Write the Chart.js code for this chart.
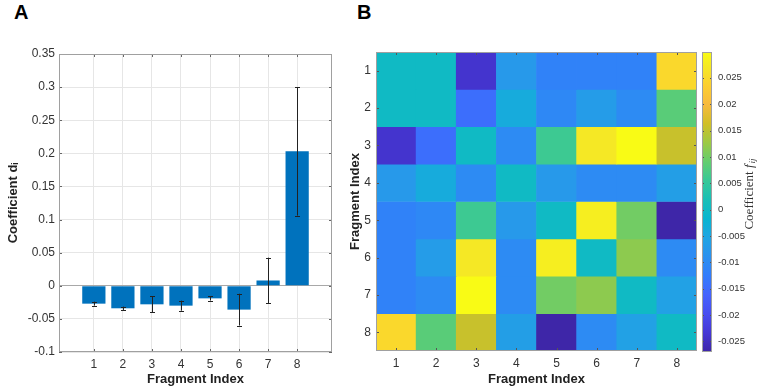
<!DOCTYPE html>
<html><head><meta charset="utf-8">
<script src="https://cdn.jsdelivr.net/npm/chart.js@4"></script>
<style>
body{margin:0;background:#fff;}
#wrap{position:relative;width:767px;height:390px;overflow:hidden;background:#fff;}
canvas{position:absolute;}
.lbl{position:absolute;font:bold 20px 'Liberation Sans',Arial,sans-serif;color:#000;line-height:23px;}
</style></head><body>
<div id="wrap">
<div class="lbl" style="left:14px;top:1px">A</div>
<div class="lbl" style="left:357px;top:1px">B</div>
<canvas id="cA" width="345" height="390" style="left:0;top:0"></canvas>
<canvas id="cB" width="360" height="390" style="left:340px;top:0"></canvas>
<canvas id="cC" width="67" height="390" style="left:700px;top:0"></canvas>
</div>
<script>
// ---------- data ----------
const fragments = [1, 2, 3, 4, 5, 6, 7, 8];
const fragmentLabels = ['1', '2', '3', '4', '5', '6', '7', '8'];
const coefD = [-0.027, -0.034, -0.028, -0.030, -0.019, -0.036, 0.008, 0.203];
const coefDErr = [0.003, 0.0025, 0.012, 0.0076, 0.0033, 0.024, 0.0345, 0.097];
const yTicksA = [-0.1, -0.05, 0, 0.05, 0.1, 0.15, 0.2, 0.25, 0.3, 0.35];
const cbTicks = [-0.025, -0.02, -0.015, -0.01, -0.005, 0, 0.005, 0.01, 0.015, 0.02, 0.025];
// heatmap rows f_ij (row i = fragment i)
const f1 = [0, 0, -0.024, -0.0075, -0.0115, -0.0115, -0.0115, 0.0248];
const f2 = [0, 0, -0.0145, -0.0040, -0.0105, -0.0070, -0.0100, 0.0083];
const f3 = [-0.024, -0.0145, 0, -0.0100, 0.0060, 0.0270, 0.0299, 0.0157];
const f4 = [-0.0075, -0.0040, -0.0100, 0, -0.0075, -0.0100, -0.0100, -0.0065];
const f5 = [-0.0115, -0.0105, 0.0060, -0.0075, 0, 0.0280, 0.0100, -0.0270];
const f6 = [-0.0115, -0.0070, 0.0270, -0.0100, 0.0280, 0, 0.0117, -0.0100];
const f7 = [-0.0115, -0.0100, 0.0299, -0.0100, 0.0100, 0.0117, 0, -0.0060];
const f8 = [0.0248, 0.0083, 0.0157, -0.0065, -0.0270, -0.0100, -0.0060, 0];
const fRows = [f1, f2, f3, f4, f5, f6, f7, f8];

// ---------- parula colormap ----------
const PAR = [
 [0.2422,0.1504,0.6603],[0.2706,0.2147,0.8364],[0.2813,0.3006,0.9414],[0.2699,0.3892,0.9906],
 [0.1963,0.4847,0.9892],[0.1687,0.5703,0.9359],[0.1248,0.6459,0.8883],[0.0297,0.7082,0.8163],
 [0.0964,0.7500,0.7120],[0.2161,0.7843,0.5923],[0.3909,0.8029,0.4354],[0.6174,0.7876,0.2612],
 [0.8203,0.7498,0.1535],[0.9728,0.7298,0.2394],[0.9892,0.8136,0.1885],[0.9597,0.9135,0.1423],
 [0.9769,0.9839,0.0805]];
const PARPOS = [0,4,8,12,16,20,24,28,32,36,40,44,48,52,56,60,63].map(v => v / 63);
function parula(t) {
  t = Math.max(0, Math.min(1, t));
  let k = 0;
  while (k < PARPOS.length - 2 && t > PARPOS[k + 1]) k++;
  const u = (t - PARPOS[k]) / (PARPOS[k + 1] - PARPOS[k]);
  const c = PAR[k].map((v, i) => Math.round(255 * (v + (PAR[k + 1][i] - v) * u)));
  return 'rgb(' + c.join(',') + ')';
}
const allF = fRows.flat();
const fMin = Math.min(...allF), fMax = Math.max(...allF);
const colorOf = v => parula((v - fMin) / (fMax - fMin));

Chart.defaults.font.family = "'Liberation Sans', Arial, Helvetica, sans-serif";
Chart.defaults.color = '#333';

const fmt = v => String(Math.round(v * 1000) / 1000);

// box + inward tick marks
const boxPlugin = {
  id: 'boxPlugin',
  afterDraw(chart, args, opts) {
    const a = chart.chartArea, ctx = chart.ctx;
    ctx.save();
    ctx.strokeStyle = opts.tickColor || '#666';
    ctx.lineWidth = 1;
    const L = opts.len || 3;
    const xs = chart.scales.x, ys = chart.scales.y;
    if (xs && xs.options.display !== false) {
      xs.ticks.forEach((t, i) => {
        const px = Math.round(xs.getPixelForTick(i)) + 0.5;
        ctx.beginPath();
        ctx.moveTo(px, a.bottom); ctx.lineTo(px, a.bottom - L);
        ctx.moveTo(px, a.top); ctx.lineTo(px, a.top + L);
        ctx.stroke();
      });
    }
    if (ys) {
      ys.ticks.forEach((t, i) => {
        const py = Math.round(ys.getPixelForTick(i)) + 0.5;
        ctx.beginPath();
        ctx.moveTo(a.left, py); ctx.lineTo(a.left + L, py);
        ctx.moveTo(a.right, py); ctx.lineTo(a.right - L, py);
        ctx.stroke();
      });
    }
    ctx.strokeStyle = opts.color || '#a0a0a0';
    ctx.strokeRect(Math.round(a.left) + 0.5, Math.round(a.top) + 0.5,
      Math.round(a.right - a.left) - 1, Math.round(a.bottom - a.top) - 1);
    ctx.restore();
  }
};

// error bars for panel A
const errPlugin = {
  id: 'errPlugin',
  afterDatasetsDraw(chart) {
    const xs = chart.scales.x, ys = chart.scales.y, ctx = chart.ctx;
    ctx.save();
    ctx.strokeStyle = '#222';
    ctx.lineWidth = 1;
    fragments.forEach((f, i) => {
      const px = Math.round(xs.getPixelForValue(f)) + 0.5;
      const y1 = ys.getPixelForValue(coefD[i] + coefDErr[i]);
      const y2 = ys.getPixelForValue(coefD[i] - coefDErr[i]);
      ctx.beginPath();
      ctx.moveTo(px, y1); ctx.lineTo(px, y2);
      ctx.moveTo(px - 2.5, Math.round(y1) + 0.5); ctx.lineTo(px + 2.5, Math.round(y1) + 0.5);
      ctx.moveTo(px - 2.5, Math.round(y2) + 0.5); ctx.lineTo(px + 2.5, Math.round(y2) + 0.5);
      ctx.stroke();
    });
    ctx.restore();
  }
};

// ---------- Panel A ----------
new Chart(document.getElementById('cA'), {
  type: 'bar',
  data: {
    datasets: [{
      data: fragments.map((f, i) => ({ x: f, y: coefD[i] })),
      backgroundColor: '#0072BD',
      borderWidth: 0,
      barPercentage: 0.8,
      categoryPercentage: 1
    }]
  },
  options: {
    responsive: false, animation: false,
    layout: { padding: { top: 54, right: 13, left: 0, bottom: 0 } },
    plugins: { legend: { display: false }, tooltip: { enabled: false }, boxPlugin: { len: 3 } },
    scales: {
      x: {
        type: 'linear', min: -0.2, max: 9.2, offset: false,
        afterBuildTicks: s => { s.ticks = fragments.map(v => ({ value: v })); },
        grid: { color: '#e6e6e6', drawTicks: false, offset: false },
        border: { display: false },
        ticks: { color: '#333', font: { size: 12 }, padding: 5, callback: v => String(v) },
        title: { display: true, text: 'Fragment Index', color: '#222', font: { size: 13, weight: 'bold' }, padding: { top: 0, bottom: 3 } },
        afterFit: s => { s.height = 38; }
      },
      y: {
        min: -0.1, max: 0.35,
        afterBuildTicks: s => { s.ticks = yTicksA.map(v => ({ value: v })); },
        grid: { color: c => (c.tick && Math.abs(c.tick.value) < 1e-9) ? '#a8a8a8' : '#e6e6e6', drawTicks: false },
        border: { display: false },
        ticks: { color: '#333', font: { size: 12 }, padding: 4, callback: v => fmt(v) },
        title: { display: true, text: 'Coefficient dᵢ', color: '#222', font: { size: 13, weight: 'bold' }, padding: { top: 6, bottom: 0 } },
        afterFit: s => { s.width = 59; }
      }
    }
  },
  plugins: [errPlugin, boxPlugin]
});

// ---------- Panel B heatmap ----------
new Chart(document.getElementById('cB'), {
  type: 'bar',
  data: {
    labels: fragmentLabels,
    datasets: fRows.map((row, r) => ({
      data: row.map(() => [fragments[r] - 0.5, fragments[r] + 0.5]),
      backgroundColor: row.map(colorOf),
      borderWidth: 0,
      barPercentage: 1,
      categoryPercentage: 1
    }))
  },
  options: {
    responsive: false, animation: false,
    layout: { padding: { top: 52, right: 3, left: 0, bottom: 0 } },
    plugins: { legend: { display: false }, tooltip: { enabled: false }, boxPlugin: { len: 3, color: '#a0a0a0', tickColor: '#555' } },
    scales: {
      x: {
        stacked: true,
        grid: { display: false, drawTicks: false },
        border: { display: false },
        ticks: { color: '#333', font: { size: 12 }, padding: 5 },
        title: { display: true, text: 'Fragment Index', color: '#222', font: { size: 13, weight: 'bold' }, padding: { top: 0, bottom: 3 } },
        afterFit: s => { s.height = 39; }
      },
      y: {
        type: 'linear', reverse: true, min: 0.5, max: 8.5, stacked: false,
        afterBuildTicks: s => { s.ticks = fragments.map(v => ({ value: v })); },
        grid: { display: false, drawTicks: false },
        border: { display: false },
        ticks: { color: '#333', font: { size: 12 }, padding: 5, callback: v => String(v) },
        title: { display: true, text: 'Fragment Index', color: '#222', font: { size: 13, weight: 'bold' }, padding: { top: 8, bottom: 0 } },
        afterFit: s => { s.width = 36; }
      }
    }
  },
  plugins: [boxPlugin]
});

// ---------- Colorbar ----------
const cbLabelPlugin = {
  id: 'cbLabel',
  afterDraw(chart) {
    const ctx = chart.ctx;
    ctx.save();
    ctx.translate(50, 194);
    ctx.rotate(-Math.PI / 2);
    ctx.fillStyle = '#333';
    ctx.textBaseline = 'middle';
    const f1s = "13px 'Liberation Serif', 'DejaVu Serif', serif";
    const f2s = "italic 13px 'Liberation Serif', 'DejaVu Serif', serif";
    const f3s = "italic 9px 'Liberation Serif', 'DejaVu Serif', serif";
    ctx.font = f1s; const w1 = ctx.measureText('Coefficient ').width;
    ctx.font = f2s; const w2 = ctx.measureText('f').width + 1;
    ctx.font = f3s; const w3 = ctx.measureText('ij').width;
    let x = -(w1 + w2 + w3) / 2;
    ctx.textAlign = 'left';
    ctx.font = f1s; ctx.fillText('Coefficient ', x, 0); x += w1;
    ctx.font = f2s; ctx.fillText('f', x, 0); x += w2;
    ctx.font = f3s; ctx.fillText('ij', x, 3);
    ctx.restore();
  }
};

new Chart(document.getElementById('cC'), {
  type: 'bar',
  data: {
    labels: [''],
    datasets: [{
      data: [[fMin, fMax]],
      backgroundColor: c => {
        const a = c.chart.chartArea;
        if (!a) return '#888';
        const g = c.chart.ctx.createLinearGradient(0, a.bottom, 0, a.top);
        PARPOS.forEach((p, i) => g.addColorStop(p, parula(p)));
        return g;
      },
      borderWidth: 0,
      barPercentage: 1,
      categoryPercentage: 1
    }]
  },
  options: {
    responsive: false, animation: false,
    layout: { padding: { top: 52, right: 0, left: 2, bottom: 38 } },
    plugins: { legend: { display: false }, tooltip: { enabled: false }, boxPlugin: { len: 2, color: '#a0a0a0', tickColor: '#555' } },
    scales: {
      x: { display: false },
      y: {
        position: 'right', min: fMin, max: fMax,
        afterBuildTicks: s => { s.ticks = cbTicks.map(v => ({ value: v })); },
        grid: { display: false, drawTicks: false },
        border: { display: false },
        ticks: { color: '#333', font: { size: 9.5 }, padding: 6, callback: v => fmt(v) },
        afterFit: s => { s.width = 55; }
      }
    }
  },
  plugins: [boxPlugin, cbLabelPlugin]
});
</script>
</body></html>
